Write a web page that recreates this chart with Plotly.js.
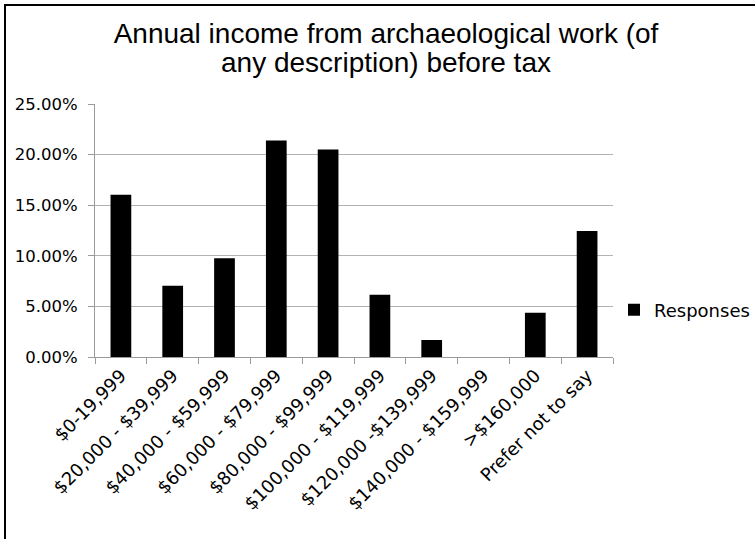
<!DOCTYPE html>
<html>
<head>
<meta charset="utf-8">
<script src="https://cdn.plot.ly/plotly-3.0.1.min.js"></script>
<style>
  html, body { margin: 0; padding: 0; background: #ffffff; }
  #chart { width: 755px; height: 539px; }
</style>
</head>
<body>
<div id="chart"></div>
<script>
// Income bands and share of survey responses in each band
const incomeBands = [
  '$0-19,999',
  '$20,000 - $39,999',
  '$40,000 - $59,999',
  '$60,000 - $79,999',
  '$80,000 - $99,999',
  '$100,000 - $119,999',
  '$120,000 -$139,999',
  '$140,000 - $159,999',
  '>$160,000',
  'Prefer not to say'
];
const responseShares = [0.1604, 0.0705, 0.0975, 0.2140, 0.2050, 0.0616, 0.0168, 0.0, 0.0438, 0.1245];
const seriesName = 'Responses';
const titleLines = ['Annual income from archaeological work (of', 'any description) before tax'];

// Plot area geometry in pixels
const W = 755, H = 539;
const plotLeft = 95, plotRight = 613, plotTop = 104, plotBottom = 357;
const pw = plotRight - plotLeft, ph = plotBottom - plotTop;
const px = v => (v - plotLeft) / pw;
const py = v => (plotBottom - v) / ph;

const sansFamily = 'DejaVu Sans, Verdana, sans-serif';
const gridGray = '#b3b3b3';
const axisGray = '#9a9a9a';

// Title glyphs are 28px; the line pitch comes from the smaller base size
const titleText = titleLines.map(s => '<span style="font-size:28px">' + s + '</span>').join('<br>');

const trace = {
  type: 'bar',
  x: incomeBands,
  y: responseShares,
  name: seriesName,
  marker: { color: '#000000', line: { width: 0 } },
  showlegend: true,
  hoverinfo: 'x+y'
};

const layout = {
  width: W,
  height: H,
  margin: { l: plotLeft, r: W - plotRight, t: plotTop, b: H - plotBottom, pad: 0, autoexpand: false },
  paper_bgcolor: '#ffffff',
  plot_bgcolor: '#ffffff',
  bargap: 0.6,
  title: {
    text: titleText,
    font: { family: 'Liberation Sans, Arial, sans-serif', size: 22, color: '#000000' },
    xref: 'container',
    x: 386 / W,
    xanchor: 'center',
    yref: 'container',
    y: 1 - 43 / H,
    yanchor: 'top'
  },
  xaxis: {
    type: 'category',
    tickangle: -45,
    tickfont: { family: sansFamily, size: 18, color: '#000000' },
    showgrid: false,
    showline: true,
    linecolor: axisGray,
    linewidth: 1,
    ticks: 'outside',
    tickson: 'boundaries',
    ticklen: 6,
    tickcolor: axisGray,
    automargin: false
  },
  yaxis: {
    range: [0, 0.25],
    dtick: 0.05,
    tickformat: '.2%',
    tickfont: { family: sansFamily, size: 16.5, color: '#000000' },
    ticklabelstandoff: 7,
    showgrid: true,
    gridcolor: gridGray,
    gridwidth: 1,
    showline: true,
    linecolor: axisGray,
    linewidth: 1,
    ticks: 'outside',
    ticklen: 6,
    tickcolor: axisGray,
    zeroline: false,
    automargin: false
  },
  legend: {
    x: px(614),
    xanchor: 'left',
    y: py(310),
    yanchor: 'middle',
    font: { family: sansFamily, size: 18, color: '#000000' },
    bgcolor: 'rgba(0,0,0,0)',
    borderwidth: 0
  },
  shapes: [
    {
      type: 'rect',
      xref: 'paper', yref: 'paper',
      x0: px(5), x1: px(W + 20),
      y0: py(H + 20), y1: py(5),
      line: { color: '#000000', width: 2 },
      fillcolor: 'rgba(0,0,0,0)',
      layer: 'above'
    }
  ]
};

Plotly.newPlot('chart', [trace], layout, { staticPlot: true, displayModeBar: false });
</script>
</body>
</html>
